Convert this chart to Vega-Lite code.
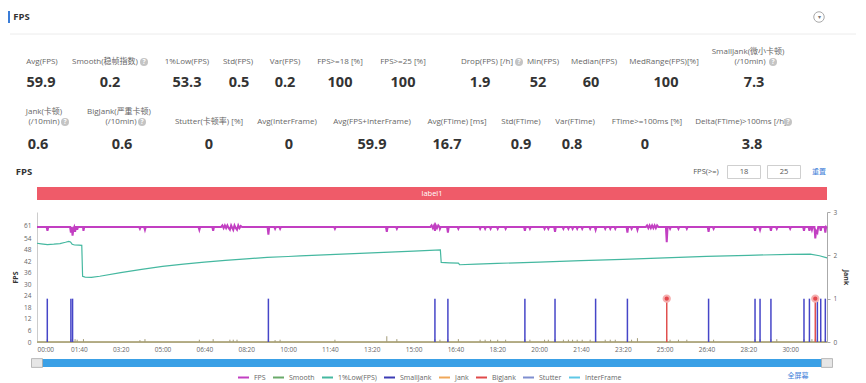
{
"$schema":"https://vega.github.io/schema/vega-lite/v6.json",
"width":866,"height":383,"autosize":{"type":"none"},"padding":0,"background":"white",
"config":{"view":{"stroke":null},"font":"Open Sans, Noto Sans CJK SC"},
"datasets":{
"stats":[
{"id":1,"row":1,"label":"Avg(FPS)","unit":"","value":"59.9","icon":false},
{"id":2,"row":1,"label":"Smooth(稳帧指数)","unit":"","value":"0.2","icon":true},
{"id":3,"row":1,"label":"1%Low(FPS)","unit":"","value":"53.3","icon":false},
{"id":4,"row":1,"label":"Std(FPS)","unit":"","value":"0.5","icon":false},
{"id":5,"row":1,"label":"Var(FPS)","unit":"","value":"0.2","icon":false},
{"id":6,"row":1,"label":"FPS>=18 [%]","unit":"","value":"100","icon":false},
{"id":7,"row":1,"label":"FPS>=25 [%]","unit":"","value":"100","icon":false},
{"id":8,"row":1,"label":"Drop(FPS) [/h]","unit":"","value":"1.9","icon":true},
{"id":9,"row":1,"label":"Min(FPS)","unit":"","value":"52","icon":false},
{"id":10,"row":1,"label":"Median(FPS)","unit":"","value":"60","icon":false},
{"id":11,"row":1,"label":"MedRange(FPS)[%]","unit":"","value":"100","icon":false},
{"id":12,"row":1,"label":"SmallJank(微小卡顿)","unit":"(/10min)","value":"7.3","icon":true},
{"id":13,"row":2,"label":"Jank(卡顿)","unit":"(/10min)","value":"0.6","icon":true},
{"id":14,"row":2,"label":"BigJank(严重卡顿)","unit":"(/10min)","value":"0.6","icon":true},
{"id":15,"row":2,"label":"Stutter(卡顿率) [%]","unit":"","value":"0","icon":false},
{"id":16,"row":2,"label":"Avg(InterFrame)","unit":"","value":"0","icon":false},
{"id":17,"row":2,"label":"Avg(FPS+InterFrame)","unit":"","value":"59.9","icon":false},
{"id":18,"row":2,"label":"Avg(FTime) [ms]","unit":"","value":"16.7","icon":false},
{"id":19,"row":2,"label":"Std(FTime)","unit":"","value":"0.9","icon":false},
{"id":20,"row":2,"label":"Var(FTime)","unit":"","value":"0.8","icon":false},
{"id":21,"row":2,"label":"FTime>=100ms [%]","unit":"","value":"0","icon":false},
{"id":22,"row":2,"label":"Delta(FTime)>100ms [/h]","unit":"","value":"3.8","icon":true}
],
"ui":[
{"k":10,"kind":"sep","text":""},
{"k":4,"kind":"box","text":""},
{"k":5,"kind":"box","text":""},
{"k":1,"kind":"bold","text":"FPS"},
{"k":2,"kind":"bold","text":"FPS"},
{"k":3,"kind":"gray","text":"FPS(>=)"},
{"k":4,"kind":"gray","text":"18"},
{"k":5,"kind":"gray","text":"25"},
{"k":6,"kind":"blue","text":"重置"},
{"k":7,"kind":"blue","text":"全屏幕"},
{"k":8,"kind":"circle","text":"▾"},
{"k":9,"kind":"bar","text":""}
],
"labels":[{"label":"label1"}],
"zoom":[{"zoom":"all","start":0,"end":1888}],
"zero":[
{"series":"InterFrame","t":0,"v":0},{"series":"InterFrame","t":1888,"v":0},
{"series":"Stutter","t":0,"v":0},{"series":"Stutter","t":1888,"v":0},
{"series":"Smooth","t":0,"v":0},{"series":"Smooth","t":1888,"v":0},
{"series":"Jank","t":0,"v":0},{"series":"Jank","t":1888,"v":0}
],
"smooth":[
{"t":24.6,"v":1.5},{"t":81,"v":1.5},{"t":85,"v":1.5},{"t":91,"v":1.5},{"t":96,"v":1.2},{"t":111,"v":1.5},{"t":246,"v":1},{"t":258,"v":1.5},{"t":388,"v":1.2},{"t":421,"v":1.5},{"t":461,"v":1.2},{"t":469,"v":1.2},{"t":478,"v":1.2},{"t":553,"v":1.5},{"t":569,"v":1},{"t":581,"v":1.2},{"t":712,"v":1.2},{"t":836,"v":3},{"t":860,"v":1.5},{"t":951,"v":1.5},{"t":963,"v":1.2},{"t":982,"v":1.5},{"t":1007,"v":1.5},{"t":1059,"v":1.2},{"t":1071,"v":1.2},{"t":1084,"v":1.2},{"t":1101,"v":1.2},{"t":1120,"v":1.2},{"t":1166,"v":1.5},{"t":1178,"v":1.2},{"t":1213,"v":1.2},{"t":1222,"v":1.2},{"t":1238,"v":1.5},{"t":1258,"v":1.2},{"t":1270,"v":1.2},{"t":1280,"v":1.2},{"t":1291,"v":1.2},{"t":1303,"v":1.2},{"t":1322,"v":1.2},{"t":1335,"v":1.5},{"t":1358,"v":1.2},{"t":1370,"v":1.2},{"t":1382,"v":1.2},{"t":1411,"v":1.5},{"t":1421,"v":1.2},{"t":1435,"v":2},{"t":1505,"v":1.5},{"t":1513,"v":1.2},{"t":1533,"v":1.2},{"t":1553,"v":1.2},{"t":1605,"v":1.5},{"t":1617,"v":1.2},{"t":1716,"v":1.5},{"t":1728,"v":1.5},{"t":1754,"v":1.5},{"t":1768,"v":1.5},{"t":1833,"v":1.5},{"t":1846,"v":1.5},{"t":1852,"v":1.5},{"t":1860,"v":1.5},{"t":1865,"v":1.5},{"t":1873,"v":1.5},{"t":1884,"v":1.5}
],
"low":[
{"t":0,"v":51.5},{"t":10,"v":51.2},{"t":25,"v":50.8},{"t":40,"v":51},{"t":55,"v":51.3},{"t":68,"v":52},{"t":76,"v":52.5},{"t":80,"v":52.2},{"t":84,"v":51},{"t":90,"v":50.6},{"t":100,"v":50.5},{"t":107,"v":50.4},{"t":109,"v":34.2},{"t":115,"v":33.8},{"t":130,"v":33.7},{"t":150,"v":34.3},{"t":200,"v":36.2},{"t":250,"v":37.9},{"t":300,"v":39.4},{"t":350,"v":40.6},{"t":400,"v":41.7},{"t":450,"v":42.6},{"t":500,"v":43.4},{"t":550,"v":44.1},{"t":600,"v":44.6},{"t":629,"v":44.9},{"t":700,"v":45.6},{"t":800,"v":46.5},{"t":900,"v":47.4},{"t":964,"v":48},{"t":966,"v":41.5},{"t":985,"v":41.3},{"t":1007,"v":41.1},{"t":1010,"v":40.3},{"t":1050,"v":40.6},{"t":1100,"v":41},{"t":1200,"v":41.7},{"t":1300,"v":42.4},{"t":1400,"v":43.1},{"t":1500,"v":43.9},{"t":1600,"v":44.7},{"t":1700,"v":45.2},{"t":1800,"v":45.7},{"t":1848,"v":45.8},{"t":1870,"v":45},{"t":1888,"v":43.9}
],
"fps":[
{"t":0,"v":60},{"t":23,"v":60},{"t":25,"v":58},{"t":27,"v":60},
{"t":79,"v":60},{"t":81,"v":57},{"t":83,"v":60},{"t":85,"v":55.5},{"t":87,"v":59},{"t":89,"v":60},{"t":91,"v":57.5},{"t":93,"v":60},{"t":95,"v":60},{"t":96,"v":58.5},{"t":98,"v":60},
{"t":110,"v":60},{"t":111,"v":58},{"t":113,"v":60},
{"t":244,"v":60},{"t":246,"v":59},{"t":248,"v":60},
{"t":256,"v":60},{"t":258,"v":58.5},{"t":260,"v":60},
{"t":386,"v":60},{"t":388,"v":58.5},{"t":390,"v":60},
{"t":419,"v":60},{"t":421,"v":58},{"t":423,"v":60},
{"t":440,"v":60},{"t":443,"v":60.8},{"t":446,"v":59.4},{"t":449,"v":60.8},{"t":452,"v":59.4},{"t":455,"v":60.8},{"t":458,"v":59.4},{"t":461,"v":58.5},{"t":464,"v":60.8},{"t":467,"v":59.4},{"t":469,"v":58.5},{"t":472,"v":60.8},{"t":475,"v":59.4},{"t":478,"v":58.5},{"t":481,"v":60.8},{"t":484,"v":59.4},{"t":487,"v":60.5},{"t":490,"v":60},
{"t":551,"v":60},{"t":553,"v":56},{"t":555,"v":60},
{"t":567,"v":60},{"t":569,"v":59},{"t":571,"v":60},
{"t":579,"v":60},{"t":581,"v":59},{"t":583,"v":60},
{"t":710,"v":60},{"t":712,"v":59},{"t":714,"v":60},
{"t":834,"v":60},{"t":836,"v":57.5},{"t":838,"v":60},
{"t":858,"v":60},{"t":860,"v":59},{"t":862,"v":60},
{"t":940,"v":60},{"t":943,"v":60.8},{"t":946,"v":59.4},{"t":949,"v":60.8},{"t":951,"v":58},{"t":953,"v":60.8},{"t":956,"v":59.4},{"t":959,"v":60.8},{"t":962,"v":60},{"t":963,"v":59},{"t":965,"v":60},
{"t":980,"v":60},{"t":982,"v":57},{"t":984,"v":60},
{"t":1005,"v":60},{"t":1007,"v":59},{"t":1009,"v":60},
{"t":1057,"v":60},{"t":1059,"v":59},{"t":1061,"v":60},
{"t":1069,"v":60},{"t":1071,"v":59},{"t":1073,"v":60},
{"t":1082,"v":60},{"t":1084,"v":59},{"t":1086,"v":60},
{"t":1099,"v":60},{"t":1101,"v":59},{"t":1103,"v":60},
{"t":1118,"v":60},{"t":1120,"v":59},{"t":1122,"v":60},
{"t":1164,"v":60},{"t":1166,"v":58},{"t":1168,"v":60},
{"t":1176,"v":60},{"t":1178,"v":59},{"t":1180,"v":60},
{"t":1211,"v":60},{"t":1213,"v":59},{"t":1215,"v":60},
{"t":1220,"v":60},{"t":1222,"v":59},{"t":1224,"v":60},
{"t":1236,"v":60},{"t":1238,"v":57.5},{"t":1240,"v":60},
{"t":1256,"v":60},{"t":1258,"v":59},{"t":1260,"v":60},
{"t":1268,"v":60},{"t":1270,"v":59},{"t":1272,"v":60},
{"t":1278,"v":60},{"t":1280,"v":59},{"t":1282,"v":60},
{"t":1289,"v":60},{"t":1291,"v":59},{"t":1293,"v":60},
{"t":1301,"v":60},{"t":1303,"v":59},{"t":1305,"v":60},
{"t":1320,"v":60},{"t":1322,"v":59},{"t":1324,"v":60},
{"t":1333,"v":60},{"t":1335,"v":58.5},{"t":1337,"v":60},
{"t":1356,"v":60},{"t":1358,"v":59},{"t":1360,"v":60},
{"t":1368,"v":60},{"t":1370,"v":59},{"t":1372,"v":60},
{"t":1380,"v":60},{"t":1382,"v":59},{"t":1384,"v":60},
{"t":1409,"v":60},{"t":1411,"v":57},{"t":1413,"v":60},
{"t":1419,"v":60},{"t":1421,"v":59},{"t":1423,"v":60},
{"t":1433,"v":60},{"t":1435,"v":58.5},{"t":1437,"v":60},
{"t":1455,"v":60},{"t":1458,"v":60.8},{"t":1461,"v":59.4},{"t":1464,"v":60.8},{"t":1467,"v":59.4},{"t":1470,"v":60.8},{"t":1473,"v":59.4},{"t":1476,"v":60.8},{"t":1479,"v":59.4},{"t":1482,"v":60.8},{"t":1485,"v":60},
{"t":1503,"v":60},{"t":1505,"v":52},{"t":1507,"v":60},
{"t":1511,"v":60},{"t":1513,"v":59},{"t":1515,"v":60},
{"t":1531,"v":60},{"t":1533,"v":59},{"t":1535,"v":60},
{"t":1551,"v":60},{"t":1553,"v":59},{"t":1555,"v":60},
{"t":1603,"v":60},{"t":1605,"v":57.5},{"t":1607,"v":60},
{"t":1615,"v":60},{"t":1617,"v":59},{"t":1619,"v":60},
{"t":1714,"v":60},{"t":1716,"v":58},{"t":1718,"v":60},
{"t":1726,"v":60},{"t":1728,"v":58.5},{"t":1730,"v":60},
{"t":1752,"v":60},{"t":1754,"v":58},{"t":1756,"v":60},
{"t":1766,"v":60},{"t":1768,"v":59},{"t":1770,"v":60},
{"t":1798,"v":60},{"t":1800,"v":59},{"t":1802,"v":60},
{"t":1831,"v":60},{"t":1833,"v":58},{"t":1835,"v":60},
{"t":1844,"v":60},{"t":1846,"v":58},{"t":1848,"v":60},
{"t":1850,"v":60},{"t":1852,"v":58.5},{"t":1854,"v":60},
{"t":1858,"v":60},{"t":1860,"v":54},{"t":1862,"v":58},{"t":1865,"v":57},{"t":1867,"v":60},
{"t":1871,"v":60},{"t":1873,"v":58},{"t":1875,"v":60},
{"t":1882,"v":60},{"t":1884,"v":57},{"t":1886,"v":60},{"t":1888,"v":59.5}
],
"jank":[
{"t":24.6,"series":"SmallJank","v":1},{"t":81,"series":"SmallJank","v":1},{"t":85,"series":"SmallJank","v":1},{"t":553,"series":"SmallJank","v":1},{"t":951,"series":"SmallJank","v":1},{"t":982,"series":"SmallJank","v":1},{"t":1166,"series":"SmallJank","v":1},{"t":1238,"series":"SmallJank","v":1},{"t":1335,"series":"SmallJank","v":1},{"t":1411,"series":"SmallJank","v":1},{"t":1605,"series":"SmallJank","v":1},{"t":1716,"series":"SmallJank","v":1},{"t":1728,"series":"SmallJank","v":1},{"t":1754,"series":"SmallJank","v":1},{"t":1833,"series":"SmallJank","v":1},{"t":1846,"series":"SmallJank","v":1},{"t":1865,"series":"SmallJank","v":1},{"t":1873,"series":"SmallJank","v":1},{"t":1884,"series":"SmallJank","v":1},
{"t":1505,"series":"BigJank","v":1},{"t":1860,"series":"BigJank","v":1}
]
},
"layer":[
{"data":{"name":"ui"},"transform":[{"filter":"datum.kind == 'sep'"}],
 "mark":{"type":"point","shape":"M-1,0H1","size":715716,"filled":false,"stroke":"#ececec","strokeWidth":1,"opacity":1},
 "encoding":{"x":{"field":"k","type":"quantitative","scale":{"domain":[1,2,3,4,5,6,7,8,9,10],"range":[21.5,24,706,744,784,819,798,819,9,433],"nice":false,"zero":false},"axis":null},
  "y":{"field":"k","type":"quantitative","scale":{"domain":[1,2,3,4,5,6,7,8,9,10],"range":[17,172,172,172,172,172,376,17,17,34],"nice":false,"zero":false},"axis":null}}},
{"data":{"name":"ui"},"transform":[{"filter":"datum.kind == 'box'"}],
 "mark":{"type":"point","shape":"M-1,-0.394H1V0.394H-1Z","size":1089,"filled":false,"stroke":"#cfcfcf","strokeWidth":1,"opacity":1},
 "encoding":{"x":{"field":"k","type":"quantitative","scale":{"domain":[1,2,3,4,5,6,7,8,9,10],"range":[21.5,24,706,744,784,819,798,819,9,433],"nice":false,"zero":false},"axis":null},
  "y":{"field":"k","type":"quantitative","scale":{"domain":[1,2,3,4,5,6,7,8,9,10],"range":[17,172,172,172,172,172,376,17,17,34],"nice":false,"zero":false},"axis":null}}},
{"data":{"name":"ui"},"transform":[{"filter":"datum.kind == 'circle'"}],
 "mark":{"type":"point","shape":"circle","size":110,"filled":false,"stroke":"#aaaaaa","strokeWidth":1,"opacity":1},
 "encoding":{"x":{"field":"k","type":"quantitative","scale":{"domain":[1,2,3,4,5,6,7,8,9,10],"range":[21.5,24,706,744,784,819,798,819,9,433],"nice":false,"zero":false},"axis":null},
  "y":{"field":"k","type":"quantitative","scale":{"domain":[1,2,3,4,5,6,7,8,9,10],"range":[17,172,172,172,172,172,376,17,17,34],"nice":false,"zero":false},"axis":null}}},
{"data":{"name":"ui"},"transform":[{"filter":"datum.kind == 'bar'"}],
 "mark":{"type":"point","shape":"M-0.17,-1H0.17V1H-0.17Z","size":144,"filled":true,"color":"#3b7dd8","opacity":1},
 "encoding":{"x":{"field":"k","type":"quantitative","scale":{"domain":[1,2,3,4,5,6,7,8,9,10],"range":[21.5,24,706,744,784,819,798,819,9,433],"nice":false,"zero":false},"axis":null},
  "y":{"field":"k","type":"quantitative","scale":{"domain":[1,2,3,4,5,6,7,8,9,10],"range":[17,172,172,172,172,172,376,17,17,34],"nice":false,"zero":false},"axis":null}}},
{"data":{"name":"ui"},"transform":[{"filter":"datum.kind == 'bold'"}],
 "mark":{"type":"text","fontSize":9.5,"fontWeight":"bold","color":"#333333","align":"center","baseline":"middle"},
 "encoding":{"x":{"field":"k","type":"quantitative","scale":{"domain":[1,2,3,4,5,6,7,8,9,10],"range":[21.5,24,706,744,784,819,798,819,9,433],"nice":false,"zero":false},"axis":null},
  "y":{"field":"k","type":"quantitative","scale":{"domain":[1,2,3,4,5,6,7,8,9,10],"range":[17,172,172,172,172,172,376,17,17,34],"nice":false,"zero":false},"axis":null},
  "text":{"field":"text"}}},
{"data":{"name":"ui"},"transform":[{"filter":"datum.kind == 'gray'"}],
 "mark":{"type":"text","fontSize":7.5,"color":"#555555","align":"center","baseline":"middle"},
 "encoding":{"x":{"field":"k","type":"quantitative","scale":{"domain":[1,2,3,4,5,6,7,8,9,10],"range":[21.5,24,706,744,784,819,798,819,9,433],"nice":false,"zero":false},"axis":null},
  "y":{"field":"k","type":"quantitative","scale":{"domain":[1,2,3,4,5,6,7,8,9,10],"range":[17,172,172,172,172,172,376,17,17,34],"nice":false,"zero":false},"axis":null},
  "text":{"field":"text"}}},
{"data":{"name":"ui"},"transform":[{"filter":"datum.kind == 'circle'"}],
 "mark":{"type":"text","fontSize":5.5,"color":"#777777","align":"center","baseline":"middle"},
 "encoding":{"x":{"field":"k","type":"quantitative","scale":{"domain":[1,2,3,4,5,6,7,8,9,10],"range":[21.5,24,706,744,784,819,798,819,9,433],"nice":false,"zero":false},"axis":null},
  "y":{"field":"k","type":"quantitative","scale":{"domain":[1,2,3,4,5,6,7,8,9,10],"range":[17,172,172,172,172,172,376,17,17,34],"nice":false,"zero":false},"axis":null},
  "text":{"field":"text"}}},
{"data":{"name":"ui"},"transform":[{"filter":"datum.kind == 'blue'"}],
 "mark":{"type":"text","fontSize":7,"color":"#3b7dd8","align":"center","baseline":"middle"},
 "encoding":{"x":{"field":"k","type":"quantitative","scale":{"domain":[1,2,3,4,5,6,7,8,9,10],"range":[21.5,24,706,744,784,819,798,819,9,433],"nice":false,"zero":false},"axis":null},
  "y":{"field":"k","type":"quantitative","scale":{"domain":[1,2,3,4,5,6,7,8,9,10],"range":[17,172,172,172,172,172,376,17,17,34],"nice":false,"zero":false},"axis":null},
  "text":{"field":"text"}}},
{"data":{"name":"stats"},"transform":[{"filter":"datum.unit == ''"}],
 "mark":{"type":"text","fontSize":8,"color":"#666666","align":"center","baseline":"middle"},
 "encoding":{"x":{"field":"id","type":"quantitative","scale":{"domain":[1,2,3,4,5,6,7,8,9,10,11,12,13,14,15,16,17,18,19,20,21,22],"range":[42,105,187,238,285,340,403,487,543,594,664,748,44,119,209,287,372,457,521,575,647,741],"nice":false,"zero":false},"axis":null},
  "y":{"field":"row","type":"quantitative","scale":{"domain":[1,2],"range":[62,122],"nice":false,"zero":false},"axis":null},
  "text":{"field":"label"}}},
{"data":{"name":"stats"},"transform":[{"filter":"datum.unit != ''"}],
 "mark":{"type":"text","fontSize":8,"color":"#666666","align":"center","baseline":"middle"},
 "encoding":{"x":{"field":"id","type":"quantitative","scale":{"domain":[1,2,3,4,5,6,7,8,9,10,11,12,13,14,15,16,17,18,19,20,21,22],"range":[42,105,187,238,285,340,403,487,543,594,664,748,44,119,209,287,372,457,521,575,647,741],"nice":false,"zero":false},"axis":null},
  "y":{"field":"row","type":"quantitative","scale":{"domain":[1,2],"range":[51.5,111.5],"nice":false,"zero":false},"axis":null},
  "text":{"field":"label"}}},
{"data":{"name":"stats"},"transform":[{"filter":"datum.unit != ''"}],
 "mark":{"type":"text","fontSize":8,"color":"#666666","align":"center","baseline":"middle"},
 "encoding":{"x":{"field":"id","type":"quantitative","scale":{"domain":[1,2,3,4,5,6,7,8,9,10,11,12,13,14,15,16,17,18,19,20,21,22],"range":[42,105,187,238,285,340,403,487,543,594,664,750,44,121,209,287,372,457,521,575,647,741],"nice":false,"zero":false},"axis":null},
  "y":{"field":"row","type":"quantitative","scale":{"domain":[1,2],"range":[62,122],"nice":false,"zero":false},"axis":null},
  "text":{"field":"unit"}}},
{"data":{"name":"stats"},
 "mark":{"type":"text","fontSize":14.5,"fontWeight":"bold","color":"#333333","align":"center","baseline":"middle"},
 "encoding":{"x":{"field":"id","type":"quantitative","scale":{"domain":[1,2,3,4,5,6,7,8,9,10,11,12,13,14,15,16,17,18,19,20,21,22],"range":[41,110,187,239,285,340,403,480,538,591,666,754,38,122,209,289,372,447,521,572,645,752],"nice":false,"zero":false},"axis":null},
  "y":{"field":"row","type":"quantitative","scale":{"domain":[1,2],"range":[83,145],"nice":false,"zero":false},"axis":null},
  "text":{"field":"value"}}},
{"data":{"name":"stats"},"transform":[{"filter":"datum.icon"}],
 "mark":{"type":"point","shape":"circle","size":64,"filled":true,"color":"#c4c4c4","opacity":1},
 "encoding":{"x":{"field":"id","type":"quantitative","scale":{"domain":[2,8,12,13,14,22],"range":[144,519,773,65,142,788],"nice":false,"zero":false},"axis":null},
  "y":{"field":"row","type":"quantitative","scale":{"domain":[1,2],"range":[62,122],"nice":false,"zero":false},"axis":null}}},
{"data":{"name":"stats"},"transform":[{"filter":"datum.icon"}],
 "mark":{"type":"text","text":"?","fontSize":6.5,"fontWeight":"bold","color":"white","align":"center","baseline":"middle"},
 "encoding":{"x":{"field":"id","type":"quantitative","scale":{"domain":[2,8,12,13,14,22],"range":[144,519,773,65,142,788],"nice":false,"zero":false},"axis":null},
  "y":{"field":"row","type":"quantitative","scale":{"domain":[1,2],"range":[62,122],"nice":false,"zero":false},"axis":null}}},
{"data":{"name":"labels"},
 "mark":{"type":"rect","color":"#ef5b69"},
 "encoding":{"x":{"field":"label","type":"nominal","scale":{"type":"band","range":[37,827],"paddingInner":0,"paddingOuter":0},"axis":null},
  "y":{"field":"label","type":"nominal","scale":{"type":"band","range":[187,200],"paddingInner":0,"paddingOuter":0},"axis":null}}},
{"data":{"name":"labels"},
 "mark":{"type":"text","color":"white","fontSize":7.5,"align":"center","baseline":"middle"},
 "encoding":{"x":{"field":"label","type":"nominal","scale":{"type":"band","range":[37,827],"paddingInner":0,"paddingOuter":0},"axis":null},
  "y":{"field":"label","type":"nominal","scale":{"type":"band","range":[187,200],"paddingInner":0,"paddingOuter":0},"axis":null},
  "text":{"field":"label"}}},
{"data":{"name":"zoom"},
 "mark":{"type":"rect","color":"#3aa0e6"},
 "encoding":{"x":{"field":"start","type":"quantitative","scale":{"domain":[0,1888],"range":[37,827],"nice":false,"zero":false},"axis":null},
  "x2":{"field":"end"},
  "y":{"field":"zoom","type":"nominal","scale":{"type":"band","range":[359,367],"paddingInner":0,"paddingOuter":0},"axis":null}}},
{"data":{"name":"zoom"},
 "mark":{"type":"point","shape":"M-1,-0.8H1V0.8H-1Z","size":121,"filled":true,"fill":"#e6e6e6","stroke":"#aaaaaa","strokeWidth":0.8,"opacity":1,"dx":5.5},
 "encoding":{"x":{"field":"start","type":"quantitative","scale":{"domain":[0,1888],"range":[37,827],"nice":false,"zero":false},"axis":null},
  "y":{"field":"zoom","type":"nominal","scale":{"type":"band","range":[359,367],"paddingInner":0,"paddingOuter":0},"axis":null}}},
{"data":{"name":"zoom"},
 "mark":{"type":"point","shape":"M-1,-0.8H1V0.8H-1Z","size":121,"filled":true,"fill":"#e6e6e6","stroke":"#aaaaaa","strokeWidth":0.8,"opacity":1,"dx":-5.5},
 "encoding":{"x":{"field":"end","type":"quantitative","scale":{"domain":[0,1888],"range":[37,827],"nice":false,"zero":false},"axis":null},
  "y":{"field":"zoom","type":"nominal","scale":{"type":"band","range":[359,367],"paddingInner":0,"paddingOuter":0},"axis":null}}},
{"data":{"name":"zero"},
 "mark":{"type":"line","strokeWidth":1.2},
 "encoding":{"x":{"field":"t","type":"quantitative","scale":{"domain":[0,1888],"range":[37,827],"nice":false,"zero":false},"axis":null},
  "y":{"field":"v","type":"quantitative","scale":{"domain":[0,67.8],"range":[342,212],"nice":false,"zero":false},"axis":null},
  "color":{"field":"series","type":"nominal","scale":{"domain":["InterFrame","Stutter","Smooth","Jank"],"range":["#5fc8e6","#7f8fd0","#8fb573","#d9a86a"]},"legend":null}}},
{"data":{"name":"smooth"},
 "mark":{"type":"rule","strokeWidth":1,"color":"#a39c78"},
 "encoding":{"x":{"field":"t","type":"quantitative","scale":{"domain":[0,1888],"range":[37,827],"nice":false,"zero":false},"axis":null},
  "y":{"field":"v","type":"quantitative","scale":{"domain":[0,67.8],"range":[342,212],"nice":false,"zero":false},"axis":null},
  "y2":{"datum":0}}},
{"data":{"name":"low"},
 "mark":{"type":"line","strokeWidth":1.2,"color":"#45b8a0"},
 "encoding":{"x":{"field":"t","type":"quantitative","scale":{"domain":[0,1888],"range":[37,827],"nice":false,"zero":false},"axis":null},
  "y":{"field":"v","type":"quantitative","scale":{"domain":[0,67.8],"range":[342,212],"nice":false,"zero":false},"axis":null}}},
{"data":{"name":"fps"},
 "mark":{"type":"line","strokeWidth":2},
 "encoding":{"x":{"field":"t","type":"quantitative","scale":{"domain":[0,1888],"range":[37,827],"nice":false,"zero":false},
   "axis":{"orient":"bottom","offset":-41,"values":[0,100,200,300,400,500,600,700,800,900,1000,1100,1200,1300,1400,1500,1600,1700,1800],"labelExpr":"format(floor(datum.value/60),'02d') + ':' + format(datum.value%60,'02d')","labelFlush":true,"labelFontSize":6.5,"labelColor":"#666666","ticks":false,"domainColor":"#aaaaaa","labelPadding":4,"title":null,"grid":false,"labelOverlap":false}},
  "y":{"field":"v","type":"quantitative","scale":{"domain":[0,67.8],"range":[342,212],"nice":false,"zero":false},
   "axis":{"orient":"left","offset":-37,"values":[0,6,12,18,24,30,36,42,48,54,61],"labelFontSize":6.5,"labelColor":"#666666","ticks":false,"domainColor":"#cccccc","labelPadding":6,"title":"FPS","titleFontSize":7,"titleFontWeight":"bold","titleColor":"#333333","titlePadding":5,"grid":false}},
  "color":{"datum":"FPS","type":"nominal","scale":{"domain":["FPS","Smooth","1%Low(FPS)","SmallJank","Jank","BigJank","Stutter","InterFrame"],"range":["#c23fc2","#6aaa6a","#45b8a0","#3c3cb4","#f0a85a","#e04a4a","#7f8fd0","#5fc8e6"]},
   "legend":{"orient":"none","legendX":237,"legendY":371,"direction":"horizontal","title":null,"symbolType":"M-1,0H1","symbolSize":121,"symbolStrokeWidth":2,"labelFontSize":7,"labelColor":"#666666","labelOffset":4,"columnPadding":3,"gridAlign":"none","padding":0}}}},
{"data":{"name":"jank"},
 "mark":{"type":"rule","strokeWidth":1.5},
 "encoding":{"x":{"field":"t","type":"quantitative","scale":{"domain":[0,1888],"range":[37,827],"nice":false,"zero":false},"axis":null},
  "y":{"field":"v","type":"quantitative","scale":{"domain":[0,3],"range":[342,212],"nice":false,"zero":false},
   "axis":{"orient":"right","offset":-39,"values":[0,1,2,3],"labelFontSize":6.5,"labelColor":"#666666","ticks":true,"tickSize":3,"tickColor":"#aaaaaa","domainColor":"#aaaaaa","labelPadding":3,"title":"Jank","titleFontSize":7,"titleFontWeight":"bold","titleColor":"#333333","titlePadding":6,"grid":false}},
  "y2":{"datum":0},
  "color":{"field":"series","type":"nominal","scale":{"domain":["SmallJank","BigJank"],"range":["#4646c8","#e0504f"]},"legend":null}}},
{"data":{"name":"jank"},"transform":[{"filter":"datum.series == 'BigJank'"}],
 "mark":{"type":"point","shape":"circle","size":40,"filled":true,"fill":"#e5484d","stroke":"#f5b0b0","strokeWidth":2,"opacity":1},
 "encoding":{"x":{"field":"t","type":"quantitative","scale":{"domain":[0,1888],"range":[37,827],"nice":false,"zero":false},"axis":null},
  "y":{"field":"v","type":"quantitative","scale":{"domain":[0,3],"range":[342,212],"nice":false,"zero":false},"axis":null}}}
],
"resolve":{"scale":{"x":"independent","y":"independent","color":"independent"},"axis":{"x":"independent","y":"independent"},"legend":{"color":"independent"}}
}
